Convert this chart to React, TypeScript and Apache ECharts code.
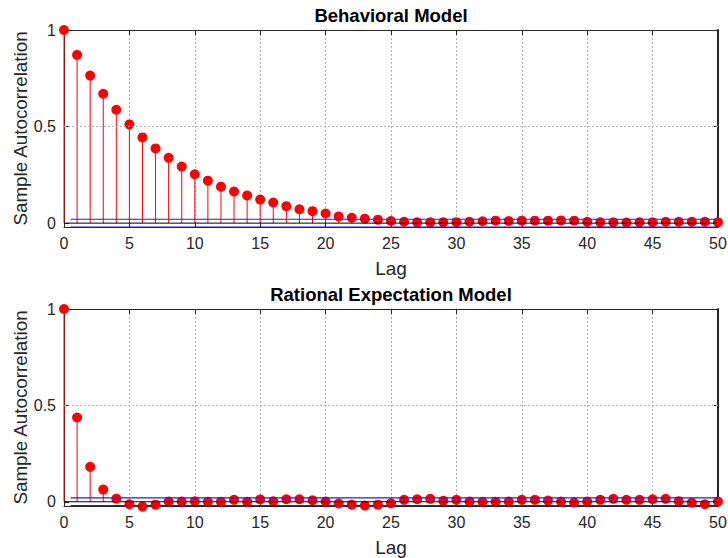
import React, { useEffect, useRef } from "react";
import * as echarts from "echarts";

const lags = [0,1,2,3,4,5,6,7,8,9,10,11,12,13,14,15,16,17,18,19,20,21,22,23,24,25,26,27,28,29,30,31,32,33,34,35,36,37,38,39,40,41,42,43,44,45,46,47,48,49,50];

const behavioralAcf = [1,0.871,0.764,0.670,0.587,0.511,0.444,0.387,0.338,0.293,0.253,0.220,0.189,0.164,0.143,0.122,0.107,0.088,0.072,0.062,0.050,0.035,0.028,0.023,0.018,0.011,0.007,0.004,0.004,0.004,0.005,0.007,0.010,0.013,0.011,0.013,0.013,0.013,0.014,0.013,0.007,0.004,0.004,0.003,0.004,0.004,0.007,0.007,0.007,0.007,0.004];

const rationalAcf = [1,0.437,0.181,0.063,0.016,-0.013,-0.025,-0.015,0.001,0.001,0.002,0.0,0.0,0.010,0.0,0.012,0.002,0.013,0.013,0.008,0.001,-0.009,-0.015,-0.020,-0.015,-0.008,0.010,0.013,0.015,0.005,0.010,0.001,0.0,0.0,0.001,0.010,0.010,0.006,0.001,-0.004,0.001,0.010,0.015,0.010,0.010,0.013,0.015,0.003,-0.005,-0.013,0.001];

const titles = ["Behavioral Model", "Rational Expectation Model"];
const yMins = [-0.02, -0.022];
const confBound = 0.02;
const yTicks = [0, 0.5, 1];
const xLabel = "Lag";
const yLabel = "Sample Autocorrelation";

const FONT = "Liberation Sans, Arial, sans-serif";

export default function App() {
  const ref = useRef<HTMLDivElement>(null);
  useEffect(() => {
    if (!ref.current) return;
    const chart = echarts.init(ref.current, undefined, { renderer: "svg" });
    const datasets = [behavioralAcf, rationalAcf];
    const grids = [
      { left: 64, right: 10, top: 30, height: 197, containLabel: false, outerBoundsMode: "none" },
      { left: 64, right: 10, top: 309, height: 197, containLabel: false, outerBoundsMode: "none" },
    ];
    const xAxis: any[] = [];
    const yAxis: any[] = [];
    const series: any[] = [];
    datasets.forEach((vals, g) => {
      xAxis.push({
        type: "value", gridIndex: g, min: 0, max: 50, interval: 5, position: "bottom",
        name: xLabel, nameLocation: "middle", nameGap: 32,
        nameTextStyle: { fontFamily: FONT, fontSize: 19, color: "#262626" },
        axisLine: { onZero: false, lineStyle: { color: "#262626", width: 1 } },
        axisTick: { inside: true, length: 5, lineStyle: { color: "#262626" } },
        axisLabel: { fontFamily: FONT, fontSize: 16, color: "#262626", margin: 8 },
        splitLine: { show: true, lineStyle: { color: "#b0b0b0", type: [2, 2], width: 1 } },
      });
      xAxis.push({
        type: "value", gridIndex: g, min: 0, max: 50, interval: 5, position: "top",
        name: titles[g], nameLocation: "middle", nameGap: 5,
        nameTextStyle: { fontFamily: FONT, fontSize: 18.5, fontWeight: "bold", color: "#000" },
        axisLine: { onZero: false, lineStyle: { color: "#262626", width: 1 } },
        axisTick: { inside: true, length: 5, lineStyle: { color: "#262626" } },
        axisLabel: { show: false },
        splitLine: { show: false },
      });
      yAxis.push({
        type: "value", gridIndex: g, min: yMins[g], max: 1, position: "left",
        name: yLabel, nameLocation: "middle", nameGap: 34, nameMoveOverlap: false,
        nameTextStyle: { fontFamily: FONT, fontSize: 18.8, color: "#262626" },
        axisLine: { show: true, onZero: false, lineStyle: { color: "#262626", width: 1 } },
        axisTick: { show: true, inside: true, length: 5, customValues: yTicks, lineStyle: { color: "#262626" } },
        axisLabel: { fontFamily: FONT, fontSize: 16, color: "#262626", margin: 8, customValues: yTicks },
        splitLine: { show: false },
      });
      yAxis.push({
        type: "value", gridIndex: g, min: yMins[g], max: 1, position: "right",
        axisLine: { show: true, onZero: false, lineStyle: { color: "#262626", width: 2 } },
        axisTick: { show: true, inside: true, length: 5, customValues: yTicks, lineStyle: { color: "#262626" } },
        axisLabel: { show: false },
        splitLine: { show: false },
      });
      const xi = g * 2;
      const yi = g * 2;
      series.push({
        type: "line", xAxisIndex: xi, yAxisIndex: yi, symbol: "none", silent: true,
        data: [[0, 0.5], [50, 0.5]],
        lineStyle: { color: "#b0b0b0", type: [2, 2], width: 1 },
      });
      series.push({
        type: "line", xAxisIndex: xi, yAxisIndex: yi, symbol: "none", silent: true,
        data: [[0, 0], [50, 0]],
        lineStyle: { color: "#000", width: 1 },
      });
      series.push({
        type: "line", xAxisIndex: xi, yAxisIndex: yi, symbol: "none", silent: true,
        data: [[0.5, confBound], [50, confBound]],
        lineStyle: { color: "#1a1aff", width: 1.2 },
      });
      series.push({
        type: "line", xAxisIndex: xi, yAxisIndex: yi, symbol: "none", silent: true,
        data: [[0.5, -confBound], [50, -confBound]],
        lineStyle: { color: "#1a1aff", width: 1.2 },
      });
      const pts = lags.map((l, i) => [l, vals[i]]);
      series.push({
        type: "custom", xAxisIndex: xi, yAxisIndex: yi, clip: false,
        data: pts,
        renderItem: (params: any, api: any) => {
          const x = api.value(0);
          const v = api.value(1);
          const p1 = api.coord([x, 0]);
          const p2 = api.coord([x, v]);
          return {
            type: "line",
            shape: { x1: p1[0], y1: p1[1], x2: p2[0], y2: p2[1] },
            style: { stroke: "#ff0000", lineWidth: 1 },
          };
        },
      });
      series.push({
        type: "scatter", xAxisIndex: xi, yAxisIndex: yi, clip: false,
        data: pts, symbol: "circle", symbolSize: 10,
        itemStyle: { color: "#ff0000", opacity: 1 },
      });
    });

    chart.setOption({
      animation: false,
      backgroundColor: "#ffffff",
      grid: grids,
      xAxis,
      yAxis,
      series,
    });
    return () => chart.dispose();
  }, []);
  return <div ref={ref} style={{ width: 728, height: 558, position: "absolute", left: 0, top: 0 }} />;
}
